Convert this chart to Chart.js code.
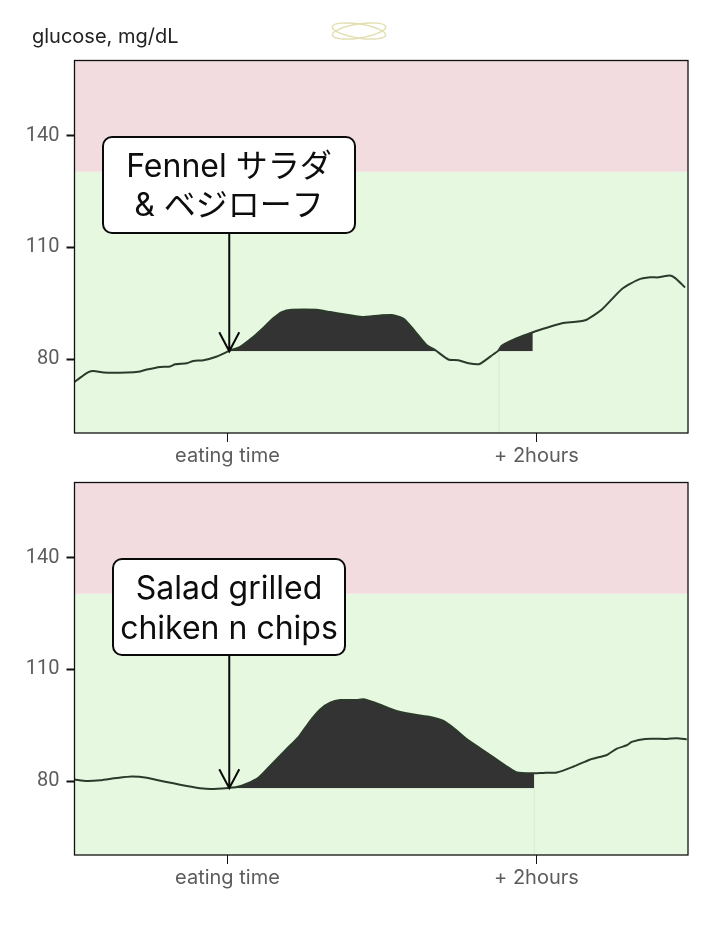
<!DOCTYPE html>
<html>
<head>
<meta charset="utf-8">
<title>glucose</title>
<script src="https://cdn.jsdelivr.net/npm/chart.js@4/dist/chart.umd.min.js"></script>
<style>
  html, body { margin: 0; padding: 0; background: #fff; }
  body { position: relative; width: 718px; height: 952px; overflow: hidden; }
  canvas { position: absolute; left: 0; }
  #chartA { top: 0; }
  #chartB { top: 422px; }
  #title { position: absolute; left: 32px; top: 24px; font: 20px Inter, sans-serif; color: #222; }
  #logo { position: absolute; left: 328px; top: 17px; }
</style>
</head>
<body>
<canvas id="chartA" width="718" height="476"></canvas>
<canvas id="chartB" width="718" height="476"></canvas>
<div id="title">glucose, mg/dL</div>
<svg id="logo" width="62" height="28">
  <ellipse cx="31" cy="14" rx="27" ry="7" fill="none" stroke="#e3dfb2" stroke-width="1.5" transform="rotate(9 31 14)"/>
  <ellipse cx="31" cy="14" rx="27" ry="7" fill="none" stroke="#e3dfb2" stroke-width="1.5" transform="rotate(-9 31 14)"/>
</svg>
<script>
// values, minutes from eating time / mg/dL
var timeA = [-59.3, -56.6, -54, -52, -48.1, -39.1, -33.9, -31.3, -26.1, -22.3, -20.3, -15.8, -13.2, -9.3, -4.1, 0.7,
  4.9, 10.1, 14, 17.9, 21.1, 25, 34.7, 39.9, 46.4, 52.2, 59.3, 63.8, 68.4, 72.3, 77.4, 80.7, 85.8, 89.7, 93.6, 97.9,
  103.3, 105.1, 106.6, 112.4, 118.6, 124, 129.9, 138.9, 145.4, 153.2, 159.6, 164.2, 167.4, 171.9, 173.9, 177.7];
var glucoseA = [74, 75.4, 76.6, 76.9, 76.5, 76.5, 76.8, 77.3, 78, 78.1, 78.7, 79, 79.6, 79.8, 80.8, 82.3,
  83.4, 86.1, 88.5, 91.1, 92.7, 93.3, 93.3, 92.7, 92, 91.4, 91.8, 91.9, 90.9, 88, 83.8, 82.5, 80, 79.8, 79, 78.8,
  81.4, 82.3, 83.7, 85.7, 87.3, 88.5, 89.7, 90.5, 93.4, 98.9, 101.4, 102, 102, 102.5, 101.8, 99.3];

var timeB = [-59.3, -54.6, -49.4, -43, -37.1, -31.3, -27.4, -21, -15.8, -10.6, -6.1, 0.7, 3.6, 7.5, 12, 15.9, 23.1,
  27.6, 32.1, 36, 39.9, 43.8, 50.2, 52.8, 59.3, 63.2, 67.1, 73.5, 78.7, 83.9, 87.8, 93, 98.1, 103.3, 108.5, 112.4,
  119.2, 122.7, 127.9, 134.4, 140.9, 147.3, 151.2, 155.1, 157, 162.2, 170.6, 174.5, 178.4];
var glucoseB = [80.5, 80.1, 80.3, 80.9, 81.3, 81, 80.4, 79.5, 78.8, 78.2, 78, 78.3, 78.5, 79.4, 81, 83.7, 88.8,
  91.9, 96.2, 99.3, 101.1, 101.8, 101.8, 102, 100.6, 99.5, 98.6, 97.8, 97.3, 96.2, 94.3, 91.3, 88.9, 86.5, 84, 82.4,
  82.2, 82.3, 82.4, 84, 85.9, 87.1, 88.8, 89.7, 90.6, 91.4, 91.4, 91.6, 91.3];

var yTicks = [80, 110, 140];
var xTicks = [0, 120];
var xTickLabels = ['eating time', '+ 2hours'];
var highLimit = 130.3;

var labelA = ['Fennel サラダ', '& ベジローフ'];
var labelB = ['Salad grilled', 'chiken n chips'];

var mealTime = 0.7;
var baseA = 82.2;
var baseB = 78.2;
var endA = 118.6;
var endB = 119.2;

var xMin = -59.4;
var xMax = 178.85;
var yMin = 60.3;
var yMax = 160.1;

function toPoints(times, values) {
  return times.map(function (t, i) { return { x: t, y: values[i] }; });
}

// each stretch of the curve that stays above the base gets its own filled dataset
function filledRuns(curve, base, end) {
  var runs = [], run = null;
  curve.forEach(function (p) {
    if (p.x >= mealTime && p.x <= end && p.y >= base) {
      if (!run) { run = []; runs.push(run); }
      run.push(p);
    } else {
      run = null;
    }
  });
  return runs;
}

var framePlugin = {
  id: 'frame',
  afterDatasetsDraw: function (chart) {
    var a = chart.chartArea, ctx = chart.ctx;
    ctx.save();
    ctx.strokeStyle = '#111';
    ctx.lineWidth = 1.3;
    ctx.strokeRect(a.left, a.top, a.right - a.left, a.bottom - a.top);
    ctx.restore();
  }
};

var calloutPlugin = {
  id: 'callout',
  afterDraw: function (chart, args, opts) {
    var ctx = chart.ctx;
    var px = chart.scales.x.getPixelForValue(opts.time);
    var py = chart.scales.y.getPixelForValue(opts.base);
    ctx.save();
    ctx.strokeStyle = '#0a0a0a';
    ctx.lineWidth = 2;
    ctx.beginPath();
    ctx.moveTo(px, opts.top + opts.height);
    ctx.lineTo(px, py);
    ctx.moveTo(px - 10, py - 19);
    ctx.lineTo(px, py);
    ctx.lineTo(px + 10, py - 19);
    ctx.stroke();

    ctx.fillStyle = '#fff';
    ctx.beginPath();
    ctx.roundRect(opts.left, opts.top, opts.width, opts.height, 9);
    ctx.fill();
    ctx.stroke();

    ctx.fillStyle = '#0d0d0d';
    ctx.font = '32px Inter, "Noto Sans CJK JP", sans-serif';
    ctx.textAlign = 'center';
    ctx.textBaseline = 'middle';
    opts.text.forEach(function (line, i) {
      ctx.fillText(line, opts.left + opts.width / 2, opts.top + opts.firstLine + i * opts.lineGap);
    });
    ctx.restore();
  }
};

function makeChart(id, times, values, base, end, faintX, faintTop, callout) {
  var curve = toPoints(times, values);
  var band = [{ x: xMin, y: highLimit }, { x: xMax, y: highLimit }];
  var faint = [{ x: faintX, y: faintTop }, { x: faintX, y: yMin }];

  var sets = [
    { data: curve, borderColor: '#2c3a2c', borderWidth: 2, pointRadius: 0, tension: 0.2, fill: false, order: 1 },
    { data: faint, borderColor: '#dcefd6', borderWidth: 1, pointRadius: 0, fill: false, order: 3 },
    { data: band, borderWidth: 0, pointRadius: 0, fill: 'end', backgroundColor: '#f2dcdf', order: 4 },
    { data: band, borderWidth: 0, pointRadius: 0, fill: 'start', backgroundColor: '#e6f8df', order: 5 }
  ];
  filledRuns(curve, base, end).forEach(function (run) {
    sets.push({ data: run, borderWidth: 0, pointRadius: 0, tension: 0.2, order: 2,
      fill: { target: { value: base }, above: '#333333', below: 'rgba(0,0,0,0)' } });
  });

  return new Chart(document.getElementById(id), {
    type: 'line',
    data: { datasets: sets },
    plugins: [framePlugin, calloutPlugin],
    options: {
      responsive: false,
      animation: false,
      layout: { padding: { left: 0, right: 30, top: 60.5, bottom: 0 } },
      plugins: {
        legend: { display: false },
        tooltip: { enabled: false },
        callout: callout
      },
      scales: {
        x: {
          type: 'linear',
          min: xMin,
          max: xMax,
          afterBuildTicks: function (axis) {
            axis.ticks = xTicks.map(function (v) { return { value: v }; });
          },
          afterFit: function (axis) { axis.height = 43; },
          border: { display: false },
          grid: { drawOnChartArea: false, tickLength: 9, tickColor: '#111', tickWidth: 1 },
          ticks: {
            color: '#5c5c5c',
            font: { family: 'Inter', size: 20 },
            padding: 2,
            maxRotation: 0,
            autoSkip: false,
            callback: function (v) { return xTickLabels[xTicks.indexOf(v)]; }
          }
        },
        y: {
          min: yMin,
          max: yMax,
          afterBuildTicks: function (axis) {
            axis.ticks = yTicks.map(function (v) { return { value: v }; });
          },
          afterFit: function (axis) { axis.width = 74.5; },
          border: { display: false },
          grid: { drawOnChartArea: false, tickLength: 8, tickColor: '#111', tickWidth: 2 },
          ticks: {
            color: '#5c5c5c',
            font: { family: 'Roboto', size: 20 },
            padding: 7,
            autoSkip: false
          }
        }
      }
    }
  });
}

makeChart('chartA', timeA, glucoseA, baseA, endA, 105.5, 83.5, {
  time: mealTime, base: baseA, text: labelA,
  left: 103, top: 137, width: 252, height: 96, firstLine: 30, lineGap: 39
});
makeChart('chartB', timeB, glucoseB, baseB, endB, endB, baseB, {
  time: mealTime, base: baseB, text: labelB,
  left: 113, top: 137, width: 232, height: 96, firstLine: 30, lineGap: 40
});
</script>
</body>
</html>
